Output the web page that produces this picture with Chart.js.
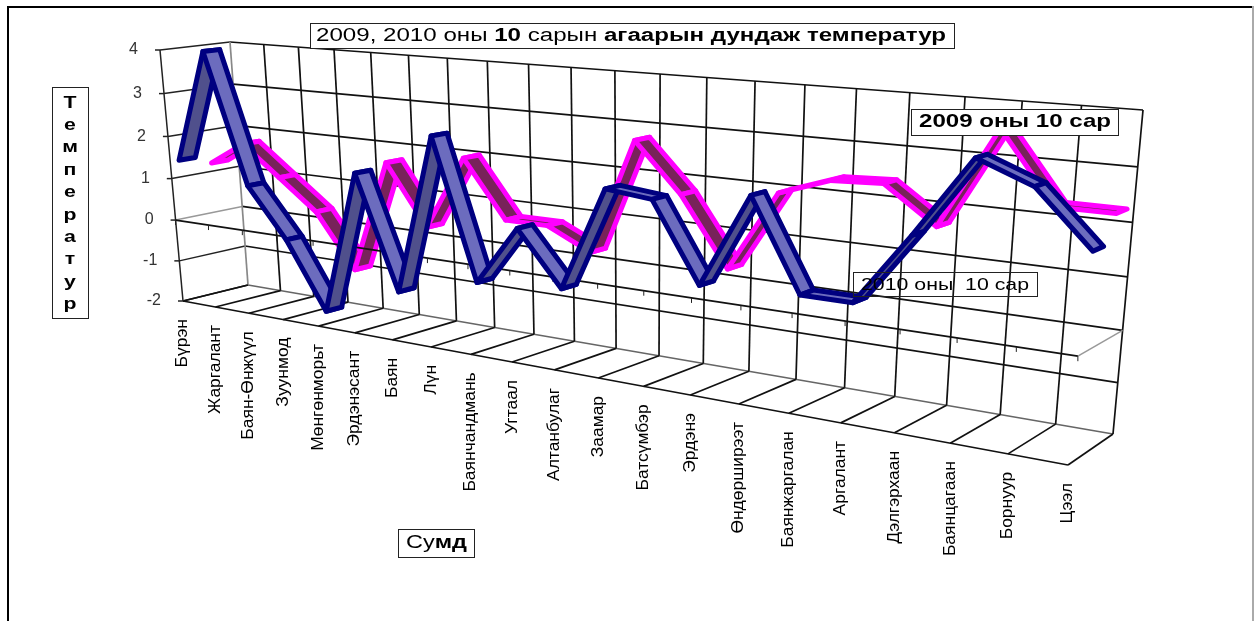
<!DOCTYPE html>
<html>
<head>
<meta charset="utf-8">
<title>Температур</title>
<script src="https://cdn.jsdelivr.net/npm/chart.js@4"></script>
<style>
  html, body { margin: 0; background: #fff; }
  canvas { display: block; }
</style>
</head>
<body>
<canvas id="chart" width="1254" height="621"></canvas>
<script>
// Chart data
const categories = ['Бүрэн', 'Жаргалант', 'Баян-Өнжүүл', 'Зуунмод', 'Мөнгөнморьт', 'Эрдэнэсант', 'Баян', 'Лүн',
  'Баянчандмань', 'Угтаал', 'Алтанбулаг', 'Заамар', 'Батсүмбэр', 'Эрдэнэ', 'Өндөрширээт', 'Баянжаргалан',
  'Аргалант', 'Дэлгэрхаан', 'Баянцагаан', 'Борнуур', 'Цээл'];
const temps2010 = [1.4, 4.0, 1.0, -0.15, -1.7, 1.6, -0.95, 2.6, -0.45, 0.85, -0.3, 1.9, 1.8, 0.2, 2.1, 0.3, 0.3, 1.7, 3.2, 2.8, 1.8];
const temps2009 = [1.2, 1.75, 1.05, 0.35, -0.9, 1.7, 0.35, 2.0, 0.75, 0.75, 0.3, 2.75, 1.75, 0.35, 2.0, 2.35, 2.4, 1.7, 3.6, 2.3, 2.3];
const seriesNames = ['2010 оны  10 сар', '2009 оны 10 сар'];

// Corners of the box in page pixels: [left-bottom, right-bottom, right-top, left-top]
const frontCorners = [[183, 301], [1068, 465], [1099, 123], [160, 50]];
const backCorners = [[248, 285], [1113, 434], [1143, 110], [230, 42]];

// Unit square to quad mapping
function quadMap(q) {
  const [p0, p1, p2, p3] = q;
  const dx1 = p1[0] - p2[0], dx2 = p3[0] - p2[0], sx = p0[0] - p1[0] + p2[0] - p3[0];
  const dy1 = p1[1] - p2[1], dy2 = p3[1] - p2[1], sy = p0[1] - p1[1] + p2[1] - p3[1];
  const det = dx1 * dy2 - dx2 * dy1;
  const g = (sx * dy2 - dx2 * sy) / det;
  const h = (dx1 * sy - sx * dy1) / det;
  const a = p1[0] - p0[0] + g * p1[0], b = p3[0] - p0[0] + h * p3[0];
  const d = p1[1] - p0[1] + g * p1[1], e = p3[1] - p0[1] + h * p3[1];
  return (u, v) => {
    const k = g * u + h * v + 1;
    return [(a * u + b * v + p0[0]) / k, (d * u + e * v + p0[1]) / k];
  };
}
const frontMap = quadMap(frontCorners);
const backMap = quadMap(backCorners);

// Scale pixels -> page pixels. depth 0 is the front plane, 1 the back wall
function project(chart, px, py, depth) {
  const area = chart.chartArea;
  const u = (px - area.left) / (area.right - area.left);
  const v = (area.bottom - py) / (area.bottom - area.top);
  const f = frontMap(u, v), b = backMap(u, v);
  return [f[0] + (b[0] - f[0]) * depth, f[1] + (b[1] - f[1]) * depth];
}

function strokeLine(ctx, a, b, color, width) {
  ctx.strokeStyle = color;
  ctx.lineWidth = width;
  ctx.beginPath();
  ctx.moveTo(a[0], a[1]);
  ctx.lineTo(b[0], b[1]);
  ctx.stroke();
}

// Line series drawn as a 3D ribbon
class RibbonController extends Chart.LineController {
  draw() {
    const chart = this.chart, ctx = chart.ctx;
    const ds = this.getDataset();
    const points = this.getMeta().data;
    ctx.save();
    ctx.lineJoin = 'round';
    for (let i = 0; i < points.length - 1; i++) {
      const a = points[i], b = points[i + 1];
      const q = [
        project(chart, a.x, a.y, ds.depthFrom), project(chart, b.x, b.y, ds.depthFrom),
        project(chart, b.x, b.y, ds.depthTo), project(chart, a.x, a.y, ds.depthTo)
      ];
      ctx.beginPath();
      q.forEach((p, n) => n ? ctx.lineTo(p[0], p[1]) : ctx.moveTo(p[0], p[1]));
      ctx.closePath();
      ctx.fillStyle = b.y < a.y ? ds.riseColor : ds.fallColor;
      ctx.fill();
      ctx.strokeStyle = ds.borderColor;
      ctx.lineWidth = ds.borderWidth;
      ctx.stroke();
    }
    ctx.restore();
  }
}
RibbonController.id = 'ribbon';
RibbonController.defaults = Chart.LineController.defaults;
Chart.register(RibbonController);

// Text squeezed or stretched to a given width, runs = [[text, font], ...]
function fitText(ctx, runs, x, y, width) {
  ctx.save();
  ctx.textAlign = 'left';
  ctx.textBaseline = 'middle';
  ctx.fillStyle = '#000';
  let total = 0;
  runs.forEach(r => { ctx.font = r[1]; total += ctx.measureText(r[0]).width; });
  ctx.translate(x, y);
  ctx.scale(width / total, 1);
  let pos = 0;
  runs.forEach(r => {
    ctx.font = r[1];
    ctx.fillText(r[0], pos, 0);
    pos += ctx.measureText(r[0]).width;
  });
  ctx.restore();
}

function box(ctx, x, y, w, h, fill) {
  if (fill) {
    ctx.fillStyle = '#fff';
    ctx.fillRect(x, y, w, h);
  }
  ctx.strokeStyle = '#222';
  ctx.lineWidth = 1;
  ctx.strokeRect(x + 0.5, y + 0.5, w, h);
}

// Walls and floor, behind the series
function drawWalls(chart) {
  const ctx = chart.ctx, sx = chart.scales.x, sy = chart.scales.y;
  const yTicks = sy.ticks.map(t => sy.getPixelForValue(t.value));
  const left = sx.getPixelForValue(0), right = sx.getPixelForValue(categories.length - 1);
  const bottom = sy.getPixelForValue(sy.min), top = sy.getPixelForValue(sy.max);
  yTicks.forEach(py => {
    const atBottom = py === bottom;
    strokeLine(ctx, project(chart, left, py, 1), project(chart, right, py, 1), atBottom ? '#666' : '#111', 1.7);
    strokeLine(ctx, project(chart, left, py, 0), project(chart, left, py, 1), py === sy.getPixelForValue(0) ? '#999' : '#222', 1.5);
  });
  categories.forEach((c, i) => {
    const px = sx.getPixelForValue(i);
    strokeLine(ctx, project(chart, px, bottom, 1), project(chart, px, top, 1), i === 0 ? '#888' : '#111', 1.7);
    strokeLine(ctx, project(chart, px, bottom, 0), project(chart, px, bottom, 1), '#111', 1.7);
  });
  strokeLine(ctx, project(chart, left, bottom, 0), project(chart, right, bottom, 0), '#111', 1.7);
  strokeLine(ctx, project(chart, left, bottom, 0), project(chart, left, top, 0), '#222', 1.5);
  strokeLine(ctx, project(chart, right, sy.getPixelForValue(0), 0), project(chart, right, sy.getPixelForValue(0), 1), '#999', 1.5);
}

// Axis line at zero with its tick marks
function drawZeroAxis(chart) {
  const ctx = chart.ctx, sx = chart.scales.x, sy = chart.scales.y;
  const zero = sy.getPixelForValue(0);
  strokeLine(ctx, project(chart, sx.getPixelForValue(0), zero, 0), project(chart, sx.getPixelForValue(categories.length - 1), zero, 0), '#111', 1.7);
  categories.forEach((c, i) => {
    const p = project(chart, sx.getPixelForValue(i), zero, 0);
    strokeLine(ctx, p, [p[0], p[1] + 5], '#222', 1);
  });
}

function drawLabels(chart) {
  const ctx = chart.ctx, sx = chart.scales.x, sy = chart.scales.y;

  // value axis numbers
  ctx.save();
  ctx.font = '16px "Liberation Sans"';
  ctx.fillStyle = '#333';
  ctx.textAlign = 'right';
  ctx.textBaseline = 'middle';
  sy.ticks.forEach(t => {
    const p = project(chart, sx.getPixelForValue(0), sy.getPixelForValue(t.value), 0);
    strokeLine(ctx, p, [p[0] - 5, p[1]], '#222', 1.5);
    ctx.fillText(t.label, p[0] - 22, p[1]);
  });
  ctx.restore();

  // category names
  ctx.save();
  ctx.font = '16px "Liberation Sans"';
  ctx.fillStyle = '#000';
  ctx.textAlign = 'right';
  ctx.textBaseline = 'middle';
  categories.forEach((c, i) => {
    const p = project(chart, sx.getPixelForValue(i), sy.getPixelForValue(sy.min), 0);
    ctx.save();
    ctx.translate(p[0], p[1] + 18);
    ctx.rotate(-Math.PI / 2);
    ctx.scale(1.09, 1);
    ctx.fillText(c, 0, 0);
    ctx.restore();
  });
  ctx.restore();

  // title
  const regular = '18px "Liberation Sans"', bold = 'bold 18px "Liberation Sans"';
  box(ctx, 310, 23, 644, 25, true);
  fitText(ctx, [['2009, 2010 оны ', regular], ['10', bold], [' сарын ', regular], ['агаарын дундаж температур', bold]], 316, 36, 630);

  // value axis title, letter by letter
  box(ctx, 52, 87, 36, 231, true);
  ctx.save();
  ctx.textBaseline = 'middle';
  Array.from('Температур').forEach((ch, i) => fitLetter(ctx, ch, 70, 103 + i * 22.4));
  ctx.restore();

  // category axis title
  box(ctx, 398, 529, 76, 28, true);
  fitText(ctx, [['Су', regular], ['мд', bold]], 406, 543, 61);

  // series names
  box(ctx, 911, 109, 207, 26, true);
  fitText(ctx, [[seriesNames[1], 'bold 19px "Liberation Sans"']], 919, 122, 192);
  box(ctx, 853, 272, 184, 24, false);
  fitText(ctx, [[seriesNames[0], '17px "Liberation Sans"']], 861, 285, 168);
}

function fitLetter(ctx, ch, x, y) {
  ctx.save();
  ctx.font = 'bold 17px "Liberation Sans"';
  ctx.fillStyle = '#000';
  ctx.textAlign = 'center';
  ctx.translate(x, y);
  ctx.scale(1.25, 1);
  ctx.fillText(ch, 0, 0);
  ctx.restore();
}

const scenePlugin = {
  id: 'scene',
  beforeDraw(chart) {
    const ctx = chart.ctx;
    ctx.save();
    ctx.fillStyle = '#fff';
    ctx.fillRect(0, 0, chart.width, chart.height);
    // page frame, open at the bottom
    strokeLine(ctx, [8, 621], [8, 7], '#000', 2);
    strokeLine(ctx, [7, 7], [1253, 7], '#000', 2);
    strokeLine(ctx, [1253, 6], [1253, 621], '#aaa', 2);
    ctx.restore();
  },
  beforeDatasetsDraw(chart) {
    drawWalls(chart);
  },
  afterDatasetDraw(chart, args) {
    if (args.index === 1) drawZeroAxis(chart);
  },
  afterDraw(chart) {
    drawLabels(chart);
  }
};

new Chart(document.getElementById('chart'), {
  data: {
    labels: categories,
    datasets: [
      { type: 'ribbon', label: seriesNames[0], data: temps2010, clip: false, borderColor: '#000080', borderWidth: 5, riseColor: '#50508c', fallColor: '#6c6cbe', depthFrom: 0.13, depthTo: 0.37 },
      { type: 'ribbon', label: seriesNames[1], data: temps2009, clip: false, borderColor: '#ff00ff', borderWidth: 5, riseColor: '#78235a', fallColor: '#78235a', depthFrom: 0.6, depthTo: 0.84 }
    ]
  },
  options: {
    responsive: false,
    animation: false,
    scales: {
      x: { type: 'category', display: false, offset: false, ticks: { autoSkip: false } },
      y: { type: 'linear', display: false, min: -2, max: 4, ticks: { stepSize: 1 } }
    },
    plugins: { legend: { display: false }, tooltip: { enabled: false } }
  },
  plugins: [scenePlugin]
});
</script>
</body>
</html>
